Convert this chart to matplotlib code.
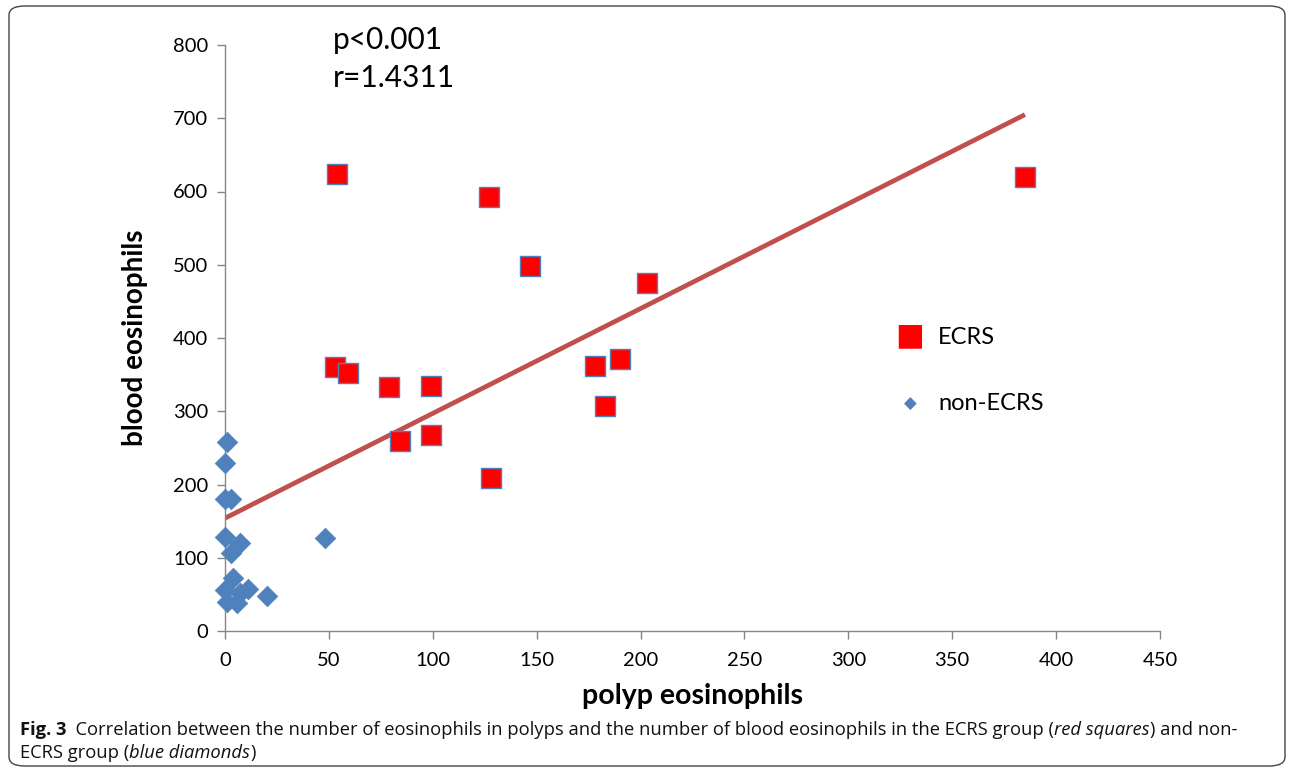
import numpy as np
import matplotlib
matplotlib.use("Agg")
import matplotlib.pyplot as plt
from matplotlib.patches import FancyBboxPatch

# ECRS group (red squares)
ecrs_polyp = [54, 127, 147, 385, 203, 53, 59, 79, 99, 178, 190, 183, 84, 99, 128]
ecrs_blood = [624, 593, 498, 620, 475, 361, 352, 333, 335, 362, 372, 307, 260, 267, 209]

# non-ECRS group (blue diamonds)
non_polyp = [1, 0, 0, 3, 0, 7, 3, 48, 4, 0, 11, 7, 1, 6, 20]
non_blood = [258, 229, 180, 180, 128, 120, 107, 127, 72, 56, 58, 52, 40, 38, 48]

# trend line (Excel linear fit)
trend_x = [0, 385]
trend_intercept = 154
trend_slope = 1.4311

W, H = 1292, 775
fig = plt.figure(figsize=(W / 100, H / 100), dpi=100)

# rounded frame round the whole figure
frame = FancyBboxPatch((9 / W, 9 / H), 1276 / W, 760 / H,
                       boxstyle="round,pad=0,rounding_size=0.012",
                       transform=fig.transFigure, fill=False,
                       edgecolor="#444444", linewidth=1.0)
fig.patches.append(frame)

ax = fig.add_axes([225 / W, 1 - 631 / H, 935 / W, 586 / H])
ax.set_xlim(0, 450)
ax.set_ylim(0, 800)

grey = "#868686"
for side in ["top", "right"]:
    ax.spines[side].set_visible(False)
for side in ["left", "bottom"]:
    ax.spines[side].set_color(grey)
    ax.spines[side].set_linewidth(1.0)

ax.set_xticks(np.arange(0, 451, 50))
ax.set_yticks(np.arange(0, 801, 100))
ax.tick_params(axis="both", direction="out", length=6, width=1, color=grey,
               labelsize=14.5, labelcolor="black")
ax.tick_params(axis="x", pad=9)
ax.tick_params(axis="y", pad=6)
for lab in ax.get_xticklabels() + ax.get_yticklabels():
    lab.set_family("Lato")

tx = np.array(trend_x, dtype=float)
ax.plot(tx, trend_intercept + trend_slope * tx, color="#C0504D", linewidth=3.4,
        solid_capstyle="butt", zorder=2)

ax.scatter(non_polyp, non_blood, marker="D", s=110, color="#4F81BD",
           edgecolor="#4F81BD", linewidth=0.5, zorder=3, clip_on=False,
           label="non-ECRS")
ax.scatter(ecrs_polyp, ecrs_blood, marker="s", s=190, color="#FF0000",
           edgecolor="#4F81BD", linewidth=1.0, zorder=4, clip_on=False,
           label="ECRS")

ax.set_xlabel("polyp eosinophils", family="Lato", fontweight="bold",
              fontsize=20.5, labelpad=10)
ax.set_ylabel("blood eosinophils", family="Lato", fontweight="bold",
              fontsize=20, labelpad=18)

fig.text(333 / W, 1 - 40 / H, "p<0.001", family="Lato", fontsize=21.5, va="center")
fig.text(333 / W, 1 - 78 / H, "r=1.4311", family="Lato", fontsize=21.5, va="center")

# legend drawn as in the source chart: square above diamond
fig.text(910 / W, 1 - 336 / H, "\u25A0", color="#FF0000", fontsize=22,
         ha="center", va="center", family="DejaVu Sans")
fig.text(910 / W, 1 - 404 / H, "\u25C6", color="#4F81BD", fontsize=12,
         ha="center", va="center", family="DejaVu Sans")
fig.text(938 / W, 1 - 337 / H, "ECRS", family="Lato", fontsize=17, va="center")
fig.text(938 / W, 1 - 404 / H, "non-ECRS", family="Lato", fontsize=17, va="center")

# caption, built from pieces so the bold and italic parts sit inline
cap_font = "Open Sans"
cap_size = 13.2
renderer = fig.canvas.get_renderer()


def write_line(pieces, x0, y0):
    x = x0
    for txt, style in pieces:
        kw = {"fontweight": "bold"} if style == "b" else {}
        if style == "i":
            kw = {"style": "italic"}
        t = fig.text(x, y0, txt, family=cap_font, fontsize=cap_size,
                     color="#111111", va="baseline", **kw)
        bb = t.get_window_extent(renderer=renderer)
        x += bb.width / W


write_line([("Fig. 3", "b"),
            ("  Correlation between the number of eosinophils in polyps and the number "
             "of blood eosinophils in the ECRS group (", "n"),
            ("red squares", "i"),
            (") and non-", "n")], 20 / W, 1 - 735 / H)
write_line([("ECRS group (", "n"), ("blue diamonds", "i"), (")", "n")],
           20 / W, 1 - 758 / H)

fig.savefig("out.png", dpi=100)
